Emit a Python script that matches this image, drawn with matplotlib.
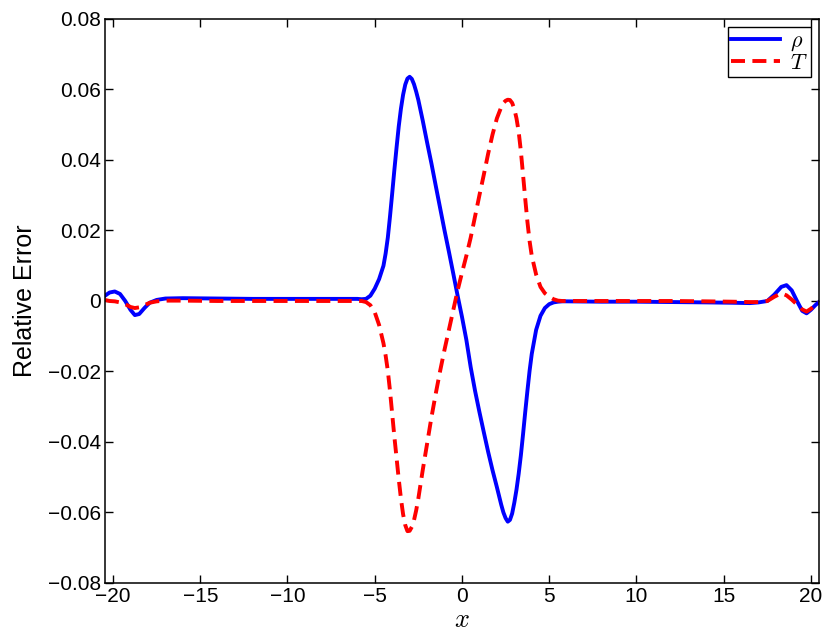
import numpy as np
import matplotlib
matplotlib.use("Agg")
from matplotlib import pyplot as plt

plt.rcParams['font.family'] = ['Liberation Sans', 'DejaVu Sans']
plt.rcParams['mathtext.fontset'] = 'cm'

# x positions (shared by both curves)
x_left = [-20.46, -20.2, -19.9, -19.6, -19.3, -19.0, -18.75, -18.5, -18.2, -17.9,
          -17.5, -17.0, -16.0, -14.0, -12.0, -10.0, -8.0, -6.5, -6.0]
x_mid = [-5.75, -5.5, -5.25, -5.0, -4.75, -4.5,
         -4.375, -4.25, -4.125, -4.0, -3.875, -3.75, -3.625, -3.5,
         -3.375, -3.25, -3.125, -3.0, -2.875, -2.75, -2.625, -2.5,
         -2.25, -2.0, -1.75, -1.5, -1.25, -1.0, -0.75, -0.5, -0.25, 0.0,
         0.25, 0.5, 0.75, 1.0, 1.25, 1.5, 1.75, 2.0, 2.25,
         2.375, 2.5, 2.625, 2.75, 2.875, 3.0, 3.125, 3.25, 3.375, 3.5,
         3.625, 3.75, 3.875,
         4.0, 4.25, 4.5, 4.75, 5.0, 5.25, 5.5, 5.75]
x_right = [6.0, 8.0, 10.0, 12.0, 14.0, 15.5, 16.5, 17.0, 17.5, 17.9,
           18.3, 18.6, 18.9, 19.2, 19.5, 19.75, 20.0, 20.25, 20.46]

# relative error of rho (blue solid)
rho_left = [0.0015, 0.0024, 0.0027, 0.0020, 0.0, -0.0025, -0.0040, -0.0037, -0.0020, -0.0005,
            0.0003, 0.0007, 0.0008, 0.0007, 0.0006, 0.0006, 0.0006, 0.0006, 0.0006]
rho_mid = [0.0005, 0.0006, 0.0015, 0.0035, 0.0062, 0.0100,
           0.0135, 0.0180, 0.0240, 0.0305, 0.0372, 0.0435, 0.0495, 0.0545,
           0.0585, 0.0614, 0.0631, 0.0636, 0.0630, 0.0615, 0.0594, 0.0570,
           0.0512, 0.0450, 0.0390, 0.0326, 0.0263, 0.0200, 0.0140, 0.0078, 0.0015, -0.0045,
           -0.0110, -0.0188, -0.0255, -0.0315, -0.0372, -0.0428, -0.0480, -0.0528, -0.0578,
           -0.0600, -0.0616, -0.0626, -0.0621, -0.0603, -0.0572, -0.0535, -0.0490, -0.0438, -0.0378,
           -0.0315, -0.0255, -0.0198,
           -0.0150, -0.0082, -0.0042, -0.0020, -0.0009, -0.0004, -0.0002, -0.0001]
rho_right = [-0.0001, -0.0002, -0.0002, -0.0003, -0.0004, -0.0005, -0.0006, -0.0004, 0.0, 0.0018,
             0.0040, 0.0045, 0.0030, 0.0, -0.0028, -0.0035, -0.0025, -0.0012, -0.0003]

# relative error of T (red dashed)
T_left = [0.0003, 0.0, -0.0001, -0.0004, -0.0009, -0.0017, -0.0020, -0.0018, -0.0012, -0.0005,
          -0.0001, 0.0001, 0.0001, 0.0, 0.0, 0.0, 0.0, 0.0, 0.0]
T_mid = [0.0, -0.0003, -0.0012, -0.0032, -0.0068, -0.0120,
         -0.0155, -0.0198, -0.0255, -0.0320, -0.0385, -0.0445, -0.0505, -0.0560,
         -0.0605, -0.0636, -0.0653, -0.0652, -0.0641, -0.0622, -0.0594, -0.0560,
         -0.0480, -0.0405, -0.0330, -0.0262, -0.0198, -0.0138, -0.0082, -0.0026, 0.0030, 0.0080,
         0.0128, 0.0180, 0.0240, 0.0300, 0.0358, 0.0418, 0.0472, 0.0518, 0.0550,
         0.0562, 0.0568, 0.0571, 0.0570, 0.0562, 0.0545, 0.0518, 0.0480, 0.0425, 0.0358,
         0.0290, 0.0225, 0.0170,
         0.0128, 0.0075, 0.0040, 0.0022, 0.0012, 0.0005, 0.0001, 0.0]
T_right = [0.0, 0.0, 0.0, 0.0, -0.0001, -0.0002, -0.0003, -0.0003, 0.0, 0.0012,
           0.0022, 0.0016, 0.0004, -0.0010, -0.0024, -0.0030, -0.0022, -0.0012, -0.0005]

xticks = [-20, -15, -10, -5, 0, 5, 10, 15, 20]
yticks = [-0.08, -0.06, -0.04, -0.02, 0, 0.02, 0.04, 0.06, 0.08]
ytick_labels = ['\u22120.08', '\u22120.06', '\u22120.04', '\u22120.02', '0',
                '0.02', '0.04', '0.06', '0.08']

x = x_left + x_mid + x_right
rho_err = rho_left + rho_mid + rho_right
T_err = T_left + T_mid + T_right

fig = plt.figure(figsize=(8.3, 6.33), dpi=100)
ax = fig.add_axes([0.1265, 0.079, 0.8602, 0.891])

ax.plot(x, rho_err, color=(0, 0, 1), lw=2.8, label=r'$\rho$')
ax.plot(x, T_err, color=(1, 0, 0), lw=2.8, ls='--', dashes=(3.6, 1.9), label=r'$T$')

ax.set_xlim(-20.46, 20.46)
ax.set_ylim(-0.08, 0.08)
ax.set_xticks(xticks)
ax.set_yticks(yticks)
ax.set_yticklabels(ytick_labels)
ax.tick_params(direction='in', length=5.5, width=1, top=True, right=True,
               labelsize=15, pad=3)
for s in ax.spines.values():
    s.set_linewidth(1.1)

ax.set_xlabel(r'$x$', fontsize=19, labelpad=1)
ax.set_ylabel('Relative Error', fontsize=18, labelpad=8)

leg = ax.legend(loc='upper right', fontsize=16, handlelength=2.2, handletextpad=0.45,
                borderpad=0.15, labelspacing=0.0, borderaxespad=0.36,
                fancybox=False, framealpha=1, edgecolor='black')
leg.get_frame().set_linewidth(1.0)

fig.savefig('out.png', dpi=100)
